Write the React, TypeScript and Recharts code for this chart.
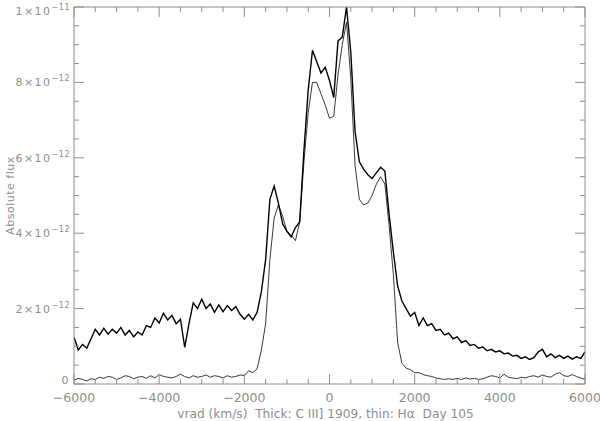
import React from 'react';
import { LineChart, Line, XAxis, YAxis } from 'recharts';

// Radial velocity grid (km/s)
const VELOCITY = [
  -6000, -5900, -5800, -5700, -5600, -5500, -5400, -5300, -5200, -5100,
  -5000, -4900, -4800, -4700, -4600, -4500, -4400, -4300, -4200, -4100,
  -4000, -3900, -3800, -3700, -3600, -3500, -3400, -3300, -3200, -3100,
  -3000, -2900, -2800, -2700, -2600, -2500, -2400, -2300, -2200, -2100,
  -2000, -1900, -1800, -1700, -1600, -1500, -1400, -1300, -1200, -1100,
  -1000, -900, -800, -700, -600, -500, -400, -300, -200, -100,
  0, 100, 200, 300, 400, 500, 600, 700, 800, 900,
  1000, 1100, 1200, 1300, 1400, 1500, 1600, 1700, 1800, 1900,
  2000, 2100, 2200, 2300, 2400, 2500, 2600, 2700, 2800, 2900,
  3000, 3100, 3200, 3300, 3400, 3500, 3600, 3700, 3800, 3900,
  4000, 4100, 4200, 4300, 4400, 4500, 4600, 4700, 4800, 4900,
  5000, 5100, 5200, 5300, 5400, 5500, 5600, 5700, 5800, 5900,
  6000,
];

// Thick: C III] 1909 (flux in units of 1e-12)
const THICK = [
  1.25, 0.9, 1.05, 0.95, 1.2, 1.45, 1.3, 1.48, 1.32, 1.45,
  1.35, 1.5, 1.3, 1.42, 1.25, 1.38, 1.3, 1.55, 1.5, 1.75,
  1.62, 1.88, 1.7, 1.82, 1.6, 1.72, 0.97, 1.6, 2.15, 2.0,
  2.25, 2.0, 2.12, 1.9, 2.1, 1.92, 2.08, 1.95, 2.05, 1.85,
  1.72, 1.85, 1.7, 1.9, 2.45, 3.3, 4.9, 5.25, 4.8, 4.25,
  4.05, 3.9, 4.15, 4.3, 6.2, 7.8, 8.85, 8.55, 8.25, 8.4,
  8.05, 7.6, 9.1, 9.2, 10.0, 8.8, 6.7, 5.9, 5.7, 5.55,
  5.45, 5.6, 5.75, 5.65, 4.5, 3.5, 2.6, 2.2, 2.0, 1.8,
  1.9, 1.55, 1.75, 1.55, 1.6, 1.42, 1.45, 1.3, 1.35, 1.2,
  1.25, 1.1, 1.15, 1.02, 1.05, 0.95, 0.98, 0.88, 0.92, 0.85,
  0.88, 0.8, 0.82, 0.74, 0.76, 0.68, 0.72, 0.65, 0.7, 0.85,
  0.92, 0.72, 0.8, 0.7, 0.76, 0.68, 0.74, 0.66, 0.72, 0.68,
  0.85,
];

// Thin: H-alpha (flux in units of 1e-12)
const THIN = [
  0.1, 0.15, 0.12, 0.08, 0.14, 0.12, 0.18, 0.15, 0.2, 0.18,
  0.12, 0.16, 0.22, 0.2, 0.14, 0.18, 0.2, 0.15, 0.22, 0.16,
  0.25, 0.2, 0.18, 0.16, 0.2, 0.26, 0.2, 0.16, 0.22, 0.18,
  0.2, 0.24, 0.18, 0.22, 0.2, 0.16, 0.22, 0.18, 0.2, 0.24,
  0.22, 0.35, 0.3, 0.4, 0.9, 1.6, 3.3, 4.4, 4.75, 4.45,
  4.05, 3.95, 3.8, 4.3, 5.9, 7.2, 8.0, 8.0, 7.7, 7.4,
  7.05, 7.1, 8.2, 9.0, 9.6, 8.1, 5.8, 4.9, 4.75, 4.8,
  5.0, 5.3, 5.5, 5.3, 4.2, 2.9, 1.1, 0.55, 0.42, 0.38,
  0.3, 0.3, 0.25, 0.22, 0.2, 0.16, 0.14, 0.12, 0.14, 0.12,
  0.15, 0.12, 0.16, 0.13, 0.15, 0.12, 0.14, 0.18, 0.22, 0.2,
  0.16, 0.26, 0.18, 0.16, 0.14, 0.18, 0.16, 0.2, 0.22, 0.18,
  0.24, 0.2, 0.18, 0.26, 0.3, 0.22, 0.2, 0.25, 0.2, 0.16,
  0.12,
];

const X_TICKS = [
  -6000, -5500, -5000, -4500, -4000, -3500, -3000, -2500, -2000, -1500, -1000, -500,
  0, 500, 1000, 1500, 2000, 2500, 3000, 3500, 4000, 4500, 5000, 5500, 6000,
];
const X_MAJOR = [-6000, -4000, -2000, 0, 2000, 4000, 6000];
const X_LABELS = ['\u22126000', '\u22124000', '\u22122000', '0', '2000', '4000', '6000'];

const Y_TICKS = [
  0, 0.5, 1, 1.5, 2, 2.5, 3, 3.5, 4, 4.5, 5, 5.5, 6, 6.5, 7, 7.5, 8, 8.5, 9, 9.5, 10,
];
const Y_MAJOR = [0, 2, 4, 6, 8, 10];
const Y_LABEL_BASE = ['0', '2\u00d710', '4\u00d710', '6\u00d710', '8\u00d710', '1\u00d710'];
const Y_LABEL_EXP = ['', '\u221212', '\u221212', '\u221212', '\u221212', '\u221211'];

const X_TITLE = 'vrad (km/s)  Thick: C III] 1909, thin: H\u03b1  Day 105';
const Y_TITLE = 'Absolute flux';

const GRAY = '#8e8e8e';
const FONT = 'DejaVu Sans, sans-serif';
const MAJOR_LEN = 10;
const MINOR_LEN = 5;

const data = VELOCITY.map((v, i) => ({ v, thick: THICK[i], thin: THIN[i] }));

const BottomTick = (props: any) => {
  const { x, y, payload } = props;
  const idx = X_MAJOR.indexOf(payload.value);
  const len = idx >= 0 ? MAJOR_LEN : MINOR_LEN;
  return (
    <g>
      <line x1={x} y1={y} x2={x} y2={y - len} stroke={GRAY} strokeWidth={1} />
      {idx >= 0 && (
        <text x={x} y={y + 18} textAnchor="middle" fill={GRAY} fontSize={12.5} fontFamily={FONT}>
          {X_LABELS[idx]}
        </text>
      )}
    </g>
  );
};

const TopTick = (props: any) => {
  const { x, y, payload } = props;
  const len = X_MAJOR.indexOf(payload.value) >= 0 ? MAJOR_LEN : MINOR_LEN;
  return <line x1={x} y1={y} x2={x} y2={y + len} stroke={GRAY} strokeWidth={1} />;
};

const LeftTick = (props: any) => {
  const { x, y, payload } = props;
  const idx = Y_MAJOR.indexOf(payload.value);
  const len = idx >= 0 ? MAJOR_LEN : MINOR_LEN;
  const first = idx === 0;
  const last = idx === Y_MAJOR.length - 1;
  const baseline = first ? y : last ? y + 8 : y + 4;
  return (
    <g>
      <line x1={x} y1={y} x2={x + len} y2={y} stroke={GRAY} strokeWidth={1} />
      {idx >= 0 && (
        <text x={x - 4} y={baseline} textAnchor="end" fill={GRAY} fontSize={11} fontFamily={FONT} letterSpacing={1.5}>
          <tspan>{Y_LABEL_BASE[idx]}</tspan>
          {Y_LABEL_EXP[idx] && (
            <tspan dy={-5} fontSize={8} letterSpacing={0.5}>
              {Y_LABEL_EXP[idx]}
            </tspan>
          )}
        </text>
      )}
    </g>
  );
};

const RightTick = (props: any) => {
  const { x, y, payload } = props;
  const len = Y_MAJOR.indexOf(payload.value) >= 0 ? MAJOR_LEN : MINOR_LEN;
  return <line x1={x} y1={y} x2={x - len} y2={y} stroke={GRAY} strokeWidth={1} />;
};

const XTitle = (props: any) => {
  const vb = props.viewBox || {};
  return (
    <text
      x={(vb.x ?? 74) + (vb.width ?? 511) / 2 - 4}
      y={418}
      textAnchor="middle"
      fill={GRAY}
      fontSize={12.2}
      fontFamily={FONT}
      style={{ whiteSpace: 'pre' }}
    >
      {X_TITLE}
    </text>
  );
};

const YTitle = (props: any) => {
  const vb = props.viewBox || {};
  const cy = (vb.y ?? 7) + (vb.height ?? 377) / 2;
  return (
    <text x={14} y={cy} transform={`rotate(-90 14 ${cy})`} textAnchor="middle" fill={GRAY} fontSize={11} fontFamily={FONT} letterSpacing={0.5}>
      {Y_TITLE}
    </text>
  );
};

export default function App() {
  return (
    <div style={{ position: 'absolute', left: 0, top: 0, width: 600, height: 421, background: '#fff' }}>
      <LineChart width={600} height={421} data={data} margin={{ top: 6, right: 14, bottom: 7, left: 0 }}>
        <XAxis
          xAxisId="bottom"
          dataKey="v"
          type="number"
          domain={[-6000, 6000]}
          allowDataOverflow
          ticks={X_TICKS}
          interval={0}
          height={30}
          tickSize={0}
          tickMargin={0}
          tick={<BottomTick />}
          axisLine={{ stroke: GRAY }}
          tickLine={false}
          label={<XTitle />}
        />
        <XAxis
          xAxisId="top"
          orientation="top"
          dataKey="v"
          type="number"
          domain={[-6000, 6000]}
          allowDataOverflow
          ticks={X_TICKS}
          interval={0}
          height={1}
          tickSize={0}
          tickMargin={0}
          tick={<TopTick />}
          axisLine={{ stroke: GRAY }}
          tickLine={false}
        />
        <YAxis
          yAxisId="left"
          type="number"
          domain={[0, 10]}
          allowDataOverflow
          ticks={Y_TICKS}
          interval={0}
          width={74}
          tickSize={0}
          tickMargin={0}
          tick={<LeftTick />}
          axisLine={{ stroke: GRAY }}
          tickLine={false}
          label={<YTitle />}
        />
        <YAxis
          yAxisId="right"
          orientation="right"
          type="number"
          domain={[0, 10]}
          allowDataOverflow
          ticks={Y_TICKS}
          interval={0}
          width={1}
          tickSize={0}
          tickMargin={0}
          tick={<RightTick />}
          axisLine={{ stroke: GRAY }}
          tickLine={false}
        />
        <Line
          xAxisId="bottom"
          yAxisId="left"
          type="linear"
          dataKey="thin"
          stroke="#222"
          strokeWidth={0.9}
          dot={false}
          isAnimationActive={false}
        />
        <Line
          xAxisId="bottom"
          yAxisId="left"
          type="linear"
          dataKey="thick"
          stroke="#000"
          strokeWidth={1.4}
          dot={false}
          isAnimationActive={false}
        />
      </LineChart>
    </div>
  );
}
